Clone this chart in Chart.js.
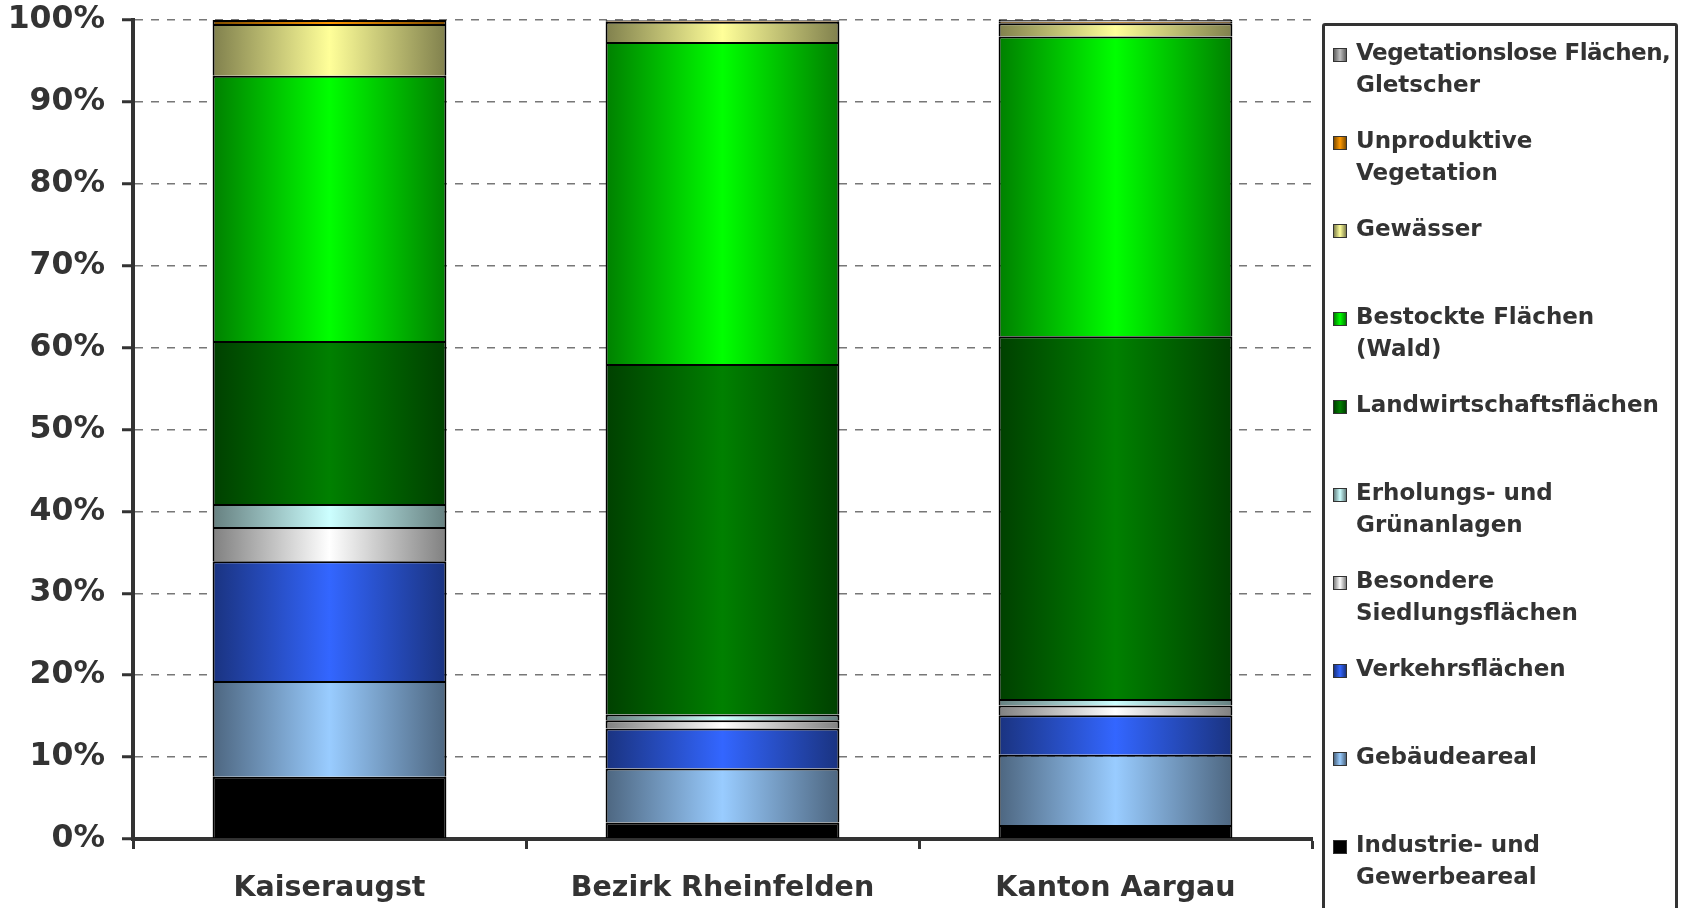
<!DOCTYPE html>
<html>
<head>
<meta charset="utf-8">
<script src="https://cdn.jsdelivr.net/npm/chart.js@4"></script>
<style>
  html, body { margin:0; padding:0; background:#fff; }
  #wrap { position:relative; width:1690px; height:908px; overflow:hidden; }
  #chartBox { position:absolute; left:0; top:0; width:1690px; height:908px; }
  #legend { position:absolute; left:1322px; top:23px; width:356px; height:900px;
            border:3px solid #333; border-radius:3px; box-sizing:border-box;
            font-family:'DejaVu Sans', sans-serif; font-weight:bold; font-size:23px;
            color:#333; padding-top:10px; }
  .item { position:relative; height:88px; line-height:32px; padding-left:31px; white-space:nowrap; }
  .mk { position:absolute; left:8px; top:12px; width:12px; height:12px; border:1.5px solid #333; }
</style>
</head>
<body>
<div id="wrap">
  <div id="chartBox"><canvas id="c"></canvas></div>
  <div id="legend"></div>
</div>
<script>
// ---- data ----
const categories = ['Kaiseraugst', 'Bezirk Rheinfelden', 'Kanton Aargau'];
const seriesNames = [
  'Industrie- und\nGewerbeareal',
  'Gebäudeareal',
  'Verkehrsflächen',
  'Besondere\nSiedlungsflächen',
  'Erholungs- und\nGrünanlagen',
  'Landwirtschaftsflächen',
  'Bestockte Flächen\n(Wald)',
  'Gewässer',
  'Unproduktive\nVegetation',
  'Vegetationslose Flächen,\nGletscher'
];
const industrie      = [7.6, 2.0, 1.7];
const gebaeude       = [11.7, 6.6, 8.6];
const verkehr        = [14.6, 4.9, 4.8];
const besondere      = [4.2, 1.0, 1.2];
const erholung       = [2.8, 0.7, 0.8];
const landwirtschaft = [19.9, 42.8, 44.3];
const wald           = [32.4, 39.3, 36.6];
const gewaesser      = [6.3, 2.5, 1.6];
const unproduktiv    = [0.5, 0.1, 0.2];
const vegetationslos = [0.0, 0.1, 0.2];
const yTicks = [0,10,20,30,40,50,60,70,80,90,100];

const seriesValues = [industrie, gebaeude, verkehr, besondere, erholung,
                      landwirtschaft, wald, gewaesser, unproduktiv, vegetationslos];

// ---- styles ----
const centers = ['#000000','#99CCFF','#3366FF','#FFFFFF','#CCFFFF','#008000','#00FF00','#FFFF99','#FF9900','#C0C0C0'];
const edges   = ['#000000','#4D6680','#1A3380','#808080','#668080','#004000','#008000','#80804D','#804D00','#606060'];
const BAR_PCT = 0.595;
const FONT = "'DejaVu Sans', sans-serif";

function gradFor(i) {
  return function(ctx) {
    const chart = ctx.chart;
    const area = chart.chartArea;
    if (!area || ctx.type !== 'data') return centers[i];
    const xs = chart.scales.x;
    const x = xs.getPixelForValue(ctx.dataIndex);
    const half = xs.width / categories.length * BAR_PCT / 2;
    const g = chart.ctx.createLinearGradient(x - half, 0, x + half, 0);
    g.addColorStop(0, edges[i]);
    g.addColorStop(0.5, centers[i]);
    g.addColorStop(1, edges[i]);
    return g;
  };
}

const datasets = seriesNames.map((name, i) => ({
  label: name.replace('\n', ' '),
  data: seriesValues[i],
  backgroundColor: gradFor(i),
  borderColor: '#000',
  borderWidth: 2,
  categoryPercentage: 1,
  barPercentage: BAR_PCT
}));

new Chart(document.getElementById('c'), {
  type: 'bar',
  data: { labels: categories, datasets },
  options: {
    responsive: true,
    maintainAspectRatio: false,
    animation: false,
    devicePixelRatio: 1,
    layout: { padding: { left: 0, right: 378, top: 20, bottom: 0 } },
    plugins: { legend: { display: false }, tooltip: { enabled: false } },
    scales: {
      x: {
        stacked: true,
        afterFit: (s) => { s.height = 69; s.paddingLeft = 0; s.paddingRight = 0; },
        grid: { drawOnChartArea: false, offset: true, tickLength: 10, tickColor: '#333', tickWidth: 3 },
        border: { color: '#333', width: 4 },
        ticks: { font: { family: FONT, weight: 'bold', size: 28.5 }, color: '#333', padding: 22, maxRotation: 0 }
      },
      y: {
        stacked: true,
        min: 0, max: 100,
        afterFit: (s) => { s.width = 133; s.paddingTop = 0; s.paddingBottom = 0; },
        afterBuildTicks: (s) => { s.ticks = yTicks.map(v => ({ value: v })); },
        ticks: { callback: v => v + '%', font: { family: FONT, weight: 'bold', size: 31.5 }, color: '#333', padding: 17 },
        grid: { color: '#777', lineWidth: 1.5, tickColor: '#333', tickWidth: 3, tickLength: 11, tickBorderDash: [] },
        border: { color: '#333', width: 4, dash: [8, 8] }
      }
    }
  }
});

// ---- HTML legend (reverse order, as in the reference) ----
const leg = document.getElementById('legend');
for (let i = seriesNames.length - 1; i >= 0; i--) {
  const it = document.createElement('div');
  it.className = 'item';
  const mk = document.createElement('span');
  mk.className = 'mk';
  mk.style.background = i === 0 ? '#000' : `linear-gradient(to right, ${edges[i]}, ${centers[i]}, ${edges[i]})`;
  it.appendChild(mk);
  const lines = seriesNames[i].split('\n');
  lines.forEach((ln) => {
    const d = document.createElement('div');
    d.textContent = ln;
    if (ln.length > 22) d.style.letterSpacing = '-0.5px';
    it.appendChild(d);
  });
  leg.appendChild(it);
}
</script>
</body>
</html>
